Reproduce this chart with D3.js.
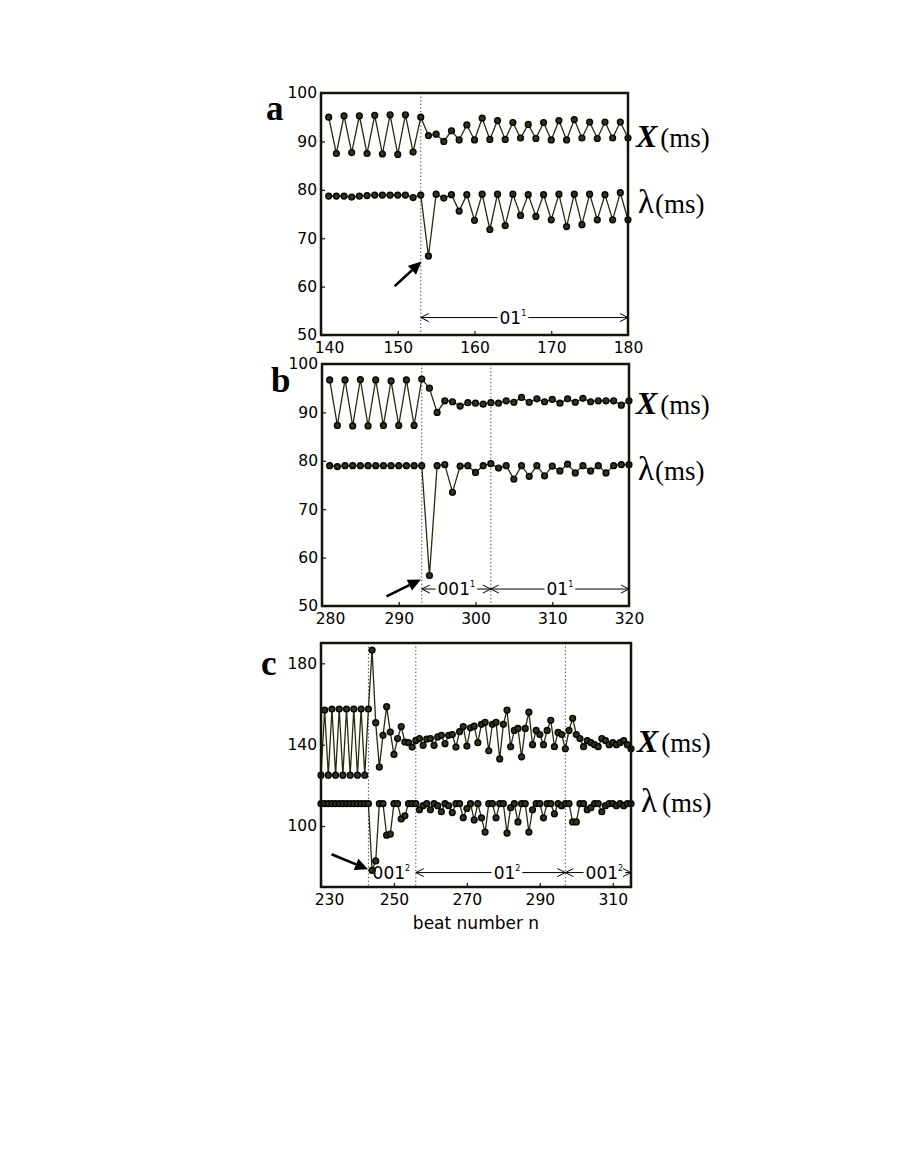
<!DOCTYPE html>
<meta charset="utf-8">
<title>Beat-to-beat X and lambda</title>
<style>

body {
  margin: 0;
  background: #fff;
}

.tick text {
  font-family: "DejaVu Sans", sans-serif;
  font-size: 15.5px;
  fill: #000;
}

.tick line {
  stroke: #14140a;
  stroke-width: 1.2px;
}

</style>
<body>
<script src="https://cdn.jsdelivr.net/npm/d3@7"></script>
<script>

// panel a : beats 141..180
var startA = 141;
var xA = [95.0, 87.5, 95.3, 87.7, 95.3, 87.5, 95.4, 87.4, 95.5, 87.3,
          95.5, 87.8, 95.0, 91.2, 91.5, 90.0, 92.2, 90.3, 93.4, 90.3,
          94.8, 90.4, 94.3, 90.4, 93.9, 90.7, 93.5, 90.6, 93.9, 90.3,
          94.3, 90.3, 94.5, 90.7, 94.0, 90.6, 94.0, 90.7, 94.0, 90.7];
var lamA = [78.7, 78.7, 78.7, 78.5, 78.7, 78.8, 78.9, 78.9, 78.9, 78.9,
            78.9, 78.4, 78.9, 66.3, 79.1, 78.3, 79.0, 75.6, 79.0, 73.7,
            79.1, 71.8, 79.1, 72.6, 79.1, 74.7, 79.0, 74.5, 79.0, 73.8,
            79.1, 72.4, 79.1, 72.8, 79.1, 73.8, 79.0, 73.8, 79.4, 73.8];

// panel b : beats 281..320
var startB = 281;
var xB = [96.7, 87.3, 96.7, 87.2, 96.8, 87.2, 96.7, 87.3, 96.5, 87.3,
          96.7, 87.3, 96.9, 95.0, 90.0, 92.4, 92.2, 91.3, 92.0, 91.9,
          91.7, 92.0, 91.9, 92.4, 92.1, 93.1, 92.1, 92.8, 92.2, 92.7,
          91.9, 92.8, 92.1, 92.9, 92.2, 92.4, 92.4, 92.4, 91.5, 92.4];
var lamB = [79.0, 78.8, 79.0, 79.0, 79.0, 79.0, 79.0, 79.0, 79.0, 79.0,
            79.0, 79.0, 79.0, 56.3, 79.0, 79.2, 73.5, 78.9, 79.0, 77.6,
            79.0, 79.4, 78.5, 79.0, 76.2, 79.0, 76.8, 79.0, 76.9, 78.9,
            77.9, 79.3, 77.5, 79.0, 77.9, 79.0, 77.5, 79.0, 79.2, 79.2];

// panel c : beats 230..315
var startC = 230;
var xC = [125, 157, 125, 157.5, 125, 157.5, 125, 157.5, 125, 157.5, 125, 157.5, 125, 157.5,
          186.5, 150.8, 129, 144.6, 158.7, 146.2, 135.2, 143, 148.9, 141.3,
          141, 138.8, 142.1, 143, 139.7, 142.7, 143, 139.7, 143.8, 144.6,
          140.5, 144.6, 145, 138.8, 146.4, 148.9, 139.3, 148.3, 149.1, 141,
          150, 151, 137, 150, 151, 133, 150, 157, 139, 147,
          148, 134, 148, 156, 140, 147, 145, 140, 147, 152,
          139, 146, 145, 138, 147, 153, 145, 143, 139, 142,
          141, 140, 139, 143, 142, 140, 141, 140, 141, 142,
          140, 138];
var lamC = [111, 111, 111, 111, 111, 111, 111, 111, 111, 111, 111, 111, 111, 111,
            78.2, 82.8, 111, 111, 95.5, 96, 111, 111, 103.5, 105,
            111, 111, 111, 108, 110, 111, 108, 111, 110, 107,
            111, 110, 106.6, 111, 111, 104.1, 108.6, 111, 103, 111,
            104, 97, 111, 111, 104, 111, 111, 96.5, 109, 111,
            102, 111, 111, 97, 108, 111, 111, 104, 111, 111,
            106, 111, 110, 111, 111, 102, 102, 111, 111, 108,
            109, 111, 111, 107, 110, 111, 111, 110, 111, 110,
            111, 111];

// ticks
var xTicksA = [140, 150, 160, 170, 180],
    xTicksB = [280, 290, 300, 310, 320],
    xTicksC = [230, 250, 270, 290, 310],
    yTicksAB = [50, 60, 70, 80, 90, 100],
    yTicksC = [100, 140, 180];

// dotted transition beats
var dotsA = [153], dotsB = [293, 302], dotsC = [243, 256, 297];

// rhythm intervals: [from, to, text, superscript, label centre]
var spansA = [[153, 180, "01", "1", 165]];
var spansB = [[293, 302, "001", "1", 297.5], [302, 320, "01", "1", 311]];
var spansC = [[null, null, "001", "2", 249.3], [256, 297, "01", "2", 281], [297, 315, "001", "2", 307.7]];

// big arrows: [n0, v0, n1, v1]
var arrowA = [149.6, 60.1, 153.1, 65.2],
    arrowB = [288.4, 52.0, 292.9, 55.5],
    arrowC = [232.9, 86.1, 242.9, 78.7];

var svg = d3.select("body").append("svg")
    .attr("width", 909)
    .attr("height", 1176);

var panels = [
  {letter: "a", lx: 266, ly: 120, n0: startA, X: xA, L: lamA, xDom: [140, 180], yDom: [50, 100],
   box: [321, 93, 628, 335], xt: xTicksA, yt: yTicksAB, dots: dotsA, spans: spansA, spanY: 53.6,
   arrow: arrowA, xlab: [636, 147], llab: [638, 213]},
  {letter: "b", lx: 271, ly: 392, n0: startB, X: xB, L: lamB, xDom: [280, 320], yDom: [50, 100],
   box: [322, 364, 629, 606], xt: xTicksB, yt: yTicksAB, dots: dotsB, spans: spansB, spanY: 53.5,
   arrow: arrowB, xlab: [636, 414], llab: [638, 480]},
  {letter: "c", lx: 261, ly: 675, n0: startC, X: xC, L: lamC, xDom: [230, 315], yDom: [70, 190],
   box: [321, 643, 631, 887], xt: xTicksC, yt: yTicksC, dots: dotsC, spans: spansC, spanY: 77.1,
   arrow: arrowC, xlab: [637, 752], llab: [641, 812]}
];

panels.forEach(drawPanel);

svg.append("text")
    .attr("x", 476)
    .attr("y", 929)
    .attr("text-anchor", "middle")
    .style("font-family", "DejaVu Sans, sans-serif")
    .style("font-size", "17px")
    .text("beat number n");

function drawPanel(p) {
  var g = svg.append("g");

  var x = d3.scaleLinear().domain(p.xDom).range([p.box[0], p.box[2]]),
      y = d3.scaleLinear().domain(p.yDom).range([p.box[3], p.box[1]]);

  g.selectAll(".dot-line")
      .data(p.dots)
    .enter().append("line")
      .attr("x1", x)
      .attr("x2", x)
      .attr("y1", p.box[1])
      .attr("y2", p.box[3])
      .attr("stroke", "#333")
      .attr("stroke-width", 1)
      .attr("stroke-dasharray", "1.2,2.4");

  [p.X, p.L].forEach(function(vals) {
    var pts = vals.map(function(v, i) { return [p.n0 + i, v]; });

    g.append("path")
        .datum(pts)
        .attr("d", d3.line().x(function(d) { return x(d[0]); }).y(function(d) { return y(d[1]); }))
        .attr("fill", "none")
        .attr("stroke", "#2a2a10")
        .attr("stroke-width", 1.3);

    g.selectAll(null)
        .data(pts)
      .enter().append("circle")
        .attr("cx", function(d) { return x(d[0]); })
        .attr("cy", function(d) { return y(d[1]); })
        .attr("r", 2.9)
        .attr("fill", "#33331a")
        .attr("stroke", "#050505")
        .attr("stroke-width", 1.4);
  });

  // axes, ticks inward
  g.append("g")
      .attr("transform", "translate(0," + p.box[3] + ")")
      .call(d3.axisBottom(x).tickValues(p.xt).tickSize(-4).tickPadding(7).tickFormat(d3.format("d")))
      .call(function(s) {
        s.select(".domain").remove();
        // first label sits a little right of the corner, as in the original
        s.selectAll(".tick text").filter(function(d, i) { return i === 0; }).attr("dx", 8);
      });

  g.append("g")
      .attr("transform", "translate(" + p.box[0] + ",0)")
      .call(d3.axisLeft(y).tickValues(p.yt).tickSize(-4).tickPadding(4).tickFormat(d3.format("d")))
      .call(function(s) { s.select(".domain").remove(); });

  g.append("rect")
      .attr("x", p.box[0])
      .attr("y", p.box[1])
      .attr("width", p.box[2] - p.box[0])
      .attr("height", p.box[3] - p.box[1])
      .attr("fill", "none")
      .attr("stroke", "#14140a")
      .attr("stroke-width", 2.5);

  // interval labels with double arrows
  var sy = y(p.spanY);
  p.spans.forEach(function(s) {
    var t = g.append("text")
        .attr("x", x(s[4]))
        .attr("y", sy + 6)
        .attr("text-anchor", "middle")
        .style("font-family", "DejaVu Sans, sans-serif")
        .style("font-size", "17px")
        .text(s[2]);
    t.append("tspan")
        .attr("dy", -8)
        .style("font-size", "8px")
        .text(s[3]);

    if (s[0] == null) return;
    var bb = t.node().getBBox(),
        x0 = x(s[0]),
        x1 = x(s[1]);
    g.append("path")
        .attr("d", "M" + x0 + "," + sy + "H" + (bb.x - 2) +
                   "M" + (bb.x + bb.width + 2) + "," + sy + "H" + x1 +
                   "M" + (x0 + 8) + "," + (sy - 4) + "L" + x0 + "," + sy + "L" + (x0 + 8) + "," + (sy + 4) +
                   "M" + (x1 - 8) + "," + (sy - 4) + "L" + x1 + "," + sy + "L" + (x1 - 8) + "," + (sy + 4))
        .attr("fill", "none")
        .attr("stroke", "#000")
        .attr("stroke-width", 1);
  });

  // pointing arrow
  var ax0 = x(p.arrow[0]), ay0 = y(p.arrow[1]),
      ax1 = x(p.arrow[2]), ay1 = y(p.arrow[3]),
      ang = Math.atan2(ay1 - ay0, ax1 - ax0),
      hl = 13, hw = 6,
      bx = ax1 - hl * Math.cos(ang), by = ay1 - hl * Math.sin(ang);
  g.append("line")
      .attr("x1", ax0).attr("y1", ay0)
      .attr("x2", bx).attr("y2", by)
      .attr("stroke", "#000")
      .attr("stroke-width", 2.6);
  g.append("path")
      .attr("d", "M" + ax1 + "," + ay1 +
                 "L" + (bx + hw * Math.sin(ang)) + "," + (by - hw * Math.cos(ang)) +
                 "L" + (bx - hw * Math.sin(ang)) + "," + (by + hw * Math.cos(ang)) + "Z")
      .attr("fill", "#000");

  // panel letter
  svg.append("text")
      .attr("x", p.lx)
      .attr("y", p.ly)
      .style("font-family", "Liberation Serif, serif")
      .style("font-weight", "bold")
      .style("font-size", "35px")
      .text(p.letter);

  // series labels
  var xl = svg.append("text")
      .attr("x", p.xlab[0])
      .attr("y", p.xlab[1])
      .style("font-family", "Liberation Serif, serif");
  xl.append("tspan")
      .style("font-weight", "bold")
      .style("font-style", "italic")
      .style("font-size", "32px")
      .text("X");
  xl.append("tspan")
      .attr("dx", 3)
      .style("font-size", "27px")
      .text("(ms)");

  var ll = svg.append("text")
      .attr("x", p.llab[0])
      .attr("y", p.llab[1])
      .style("font-family", "Liberation Serif, serif");
  ll.append("tspan")
      .style("font-size", "33px")
      .text("λ");
  ll.append("tspan")
      .attr("dx", p.letter == "c" ? 5 : 1)
      .style("font-size", "27px")
      .text("(ms)");
}

</script>
